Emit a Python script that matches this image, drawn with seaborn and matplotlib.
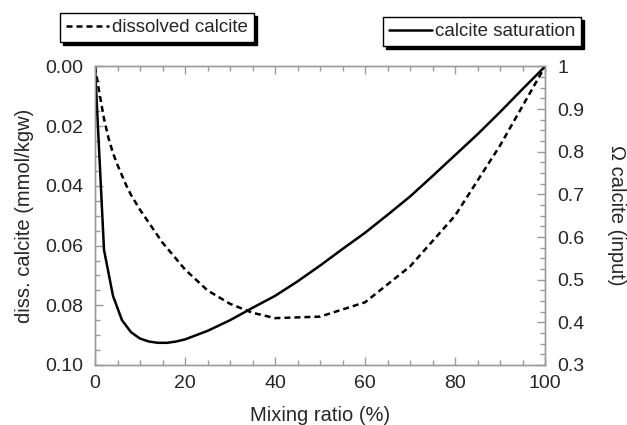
import numpy as np
import pandas as pd
import matplotlib
matplotlib.use("Agg")
import matplotlib.pyplot as plt
from matplotlib.ticker import MultipleLocator, FuncFormatter
import seaborn as sns

# data
mix_diss = [0, 1, 2, 3, 4, 5, 6, 7, 8, 10, 15, 20, 25, 30, 35, 40, 50, 60, 70, 80, 90, 100]
diss_calcite = [0.0, 0.009, 0.0175, 0.024, 0.029, 0.033, 0.0365, 0.040, 0.043, 0.048,
                0.059, 0.068, 0.075, 0.0795, 0.0825, 0.0843, 0.0838, 0.079, 0.067,
                0.050, 0.0265, 0.0]
mix_sat = [0, 2, 4, 6, 8, 10, 12, 14, 16, 18, 20, 25, 30, 35, 40, 45, 50, 55, 60,
           65, 70, 75, 80, 85, 90, 95, 100]
omega = [1.0, 0.57, 0.462, 0.405, 0.377, 0.362, 0.355, 0.352, 0.352, 0.355, 0.36,
         0.38, 0.405, 0.434, 0.462, 0.496, 0.533, 0.572, 0.61, 0.652, 0.695, 0.743,
         0.792, 0.841, 0.893, 0.947, 1.0]

sns.set_style("ticks")
plt.rcParams['font.family'] = ['Liberation Sans', 'DejaVu Sans']

fig = plt.figure(figsize=(6.27, 4.25), dpi=100)
ax = fig.add_axes([95/627, 1-365/425, 450/627, (365-66.5)/425])
ax2 = ax.twinx()

df1 = pd.DataFrame({"x": mix_diss, "y": diss_calcite})
df2 = pd.DataFrame({"x": mix_sat, "y": omega})

sns.lineplot(data=df1, x="x", y="y", ax=ax, color="black", lw=1.8,
             estimator=None, sort=False, label="dissolved calcite", legend=False)
ax.lines[0].set_dashes((2.4, 1.6))
sns.lineplot(data=df2, x="x", y="y", ax=ax2, color="black", lw=1.8,
             estimator=None, sort=False, label="calcite saturation", legend=False)

ax.set_xlim(0, 100)
ax.set_ylim(0.10, 0.0)
ax2.set_ylim(0.3, 1.0)

gray = "#9a9a9a"
for a in (ax, ax2):
    for s in a.spines.values():
        s.set_color(gray)
        s.set_linewidth(1.0)

ax.xaxis.set_major_locator(MultipleLocator(20))
ax.xaxis.set_minor_locator(MultipleLocator(5))
ax.yaxis.set_major_locator(MultipleLocator(0.02))
ax.yaxis.set_minor_locator(MultipleLocator(0.005))
ax.yaxis.set_major_formatter(FuncFormatter(lambda v, p: f"{v:.2f}"))
ax2.yaxis.set_major_locator(MultipleLocator(0.1))
ax2.yaxis.set_minor_locator(MultipleLocator(0.025))
ax2.yaxis.set_major_formatter(FuncFormatter(lambda v, p: f"{v:g}"))

fs_tick = 14
ax.tick_params(axis="x", which="both", direction="in", top=True, bottom=True,
               color=gray, labelsize=fs_tick, pad=7)
ax.tick_params(axis="y", which="both", direction="in", left=True, right=False,
               color=gray, labelsize=fs_tick, pad=8.5)
ax2.tick_params(axis="y", which="both", direction="in", right=True,
                color=gray, labelsize=fs_tick, pad=9)
for a in (ax, ax2):
    a.tick_params(which="major", length=6, width=1)
    a.tick_params(which="minor", length=3.5, width=1)

ax.set_xlabel("Mixing ratio (%)", fontsize=14.5, labelpad=10)
ax.set_ylabel("diss. calcite (mmol/kgw)", fontsize=14.5, labelpad=8)
ax2.set_ylabel("Ω calcite (input)", fontsize=14.5, rotation=270, labelpad=30)

shadow = {"color": "black", "alpha": 1.0}
leg1 = fig.legend(handles=[ax.lines[0]], labels=["dissolved calcite"],
                  loc="upper left", bbox_to_anchor=(60/627, 1-13/425),
                  frameon=True, fancybox=False, edgecolor="black", fontsize=13.5,
                  handlelength=2.3, handletextpad=0.15, borderpad=0.32,
                  borderaxespad=0, shadow=shadow, framealpha=1)
leg1.get_frame().set_linewidth(1.0)
leg2 = fig.legend(handles=[ax2.lines[0]], labels=["calcite saturation"],
                  loc="upper left", bbox_to_anchor=(383/627, 1-17/425),
                  frameon=True, fancybox=False, edgecolor="black", fontsize=13.5,
                  handlelength=2.3, handletextpad=0.15, borderpad=0.32,
                  borderaxespad=0, shadow=shadow, framealpha=1)
leg2.get_frame().set_linewidth(1.0)

fig.savefig("out.png", dpi=100)
